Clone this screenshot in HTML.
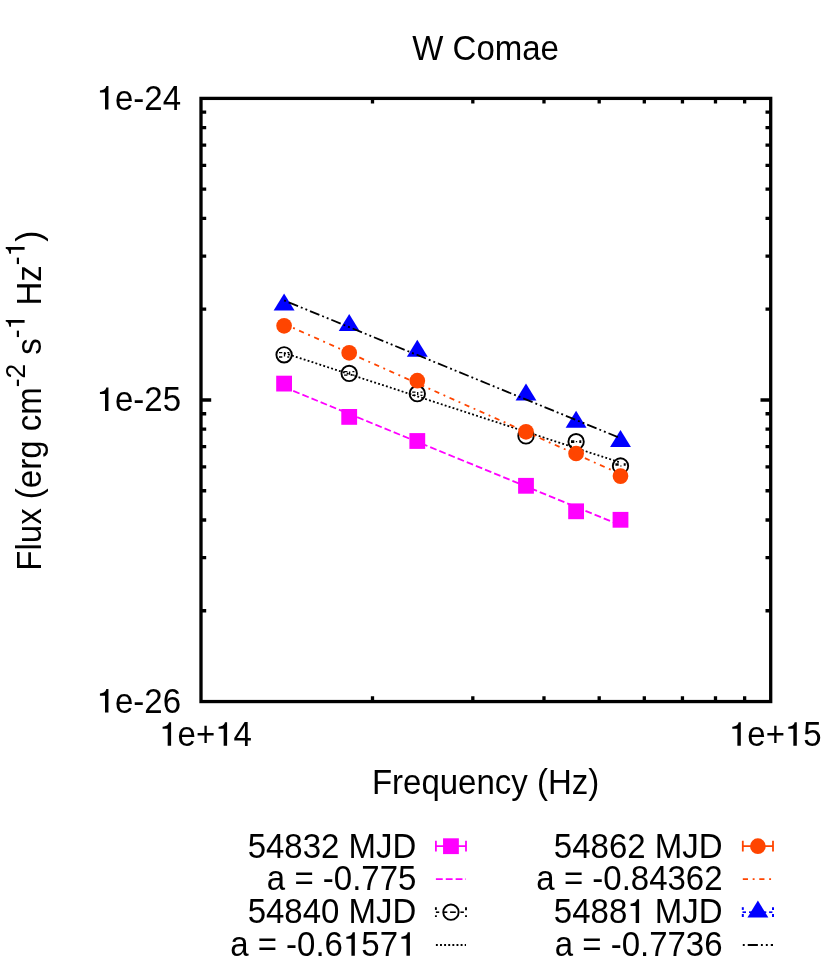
<!DOCTYPE html>
<html><head><meta charset="utf-8"><title>W Comae</title>
<style>html,body{margin:0;padding:0;background:#fff;}svg{display:block;will-change:transform;}text{font-family:"Liberation Sans",sans-serif;fill:#000;font-kerning:none;white-space:pre;}</style></head><body>
<svg width="830" height="972" viewBox="0 0 830 972">
<rect x="0" y="0" width="830" height="972" fill="#ffffff"/>
<g stroke="#000" stroke-width="3.3" stroke-linecap="butt" fill="none">
<path d="M372.50 701.55V696.35M372.50 98.40V103.60"/>
<path d="M472.82 701.55V696.35M472.82 98.40V103.60"/>
<path d="M543.99 701.55V696.35M543.99 98.40V103.60"/>
<path d="M599.20 701.55V696.35M599.20 98.40V103.60"/>
<path d="M644.31 701.55V696.35M644.31 98.40V103.60"/>
<path d="M682.45 701.55V696.35M682.45 98.40V103.60"/>
<path d="M715.49 701.55V696.35M715.49 98.40V103.60"/>
<path d="M744.63 701.55V696.35M744.63 98.40V103.60"/>
<path d="M201.00 309.19H206.20M770.70 309.19H765.50"/>
<path d="M201.00 256.09H206.20M770.70 256.09H765.50"/>
<path d="M201.00 218.41H206.20M770.70 218.41H765.50"/>
<path d="M201.00 189.18H206.20M770.70 189.18H765.50"/>
<path d="M201.00 165.30H206.20M770.70 165.30H765.50"/>
<path d="M201.00 145.11H206.20M770.70 145.11H765.50"/>
<path d="M201.00 127.63H206.20M770.70 127.63H765.50"/>
<path d="M201.00 112.20H206.20M770.70 112.20H765.50"/>
<path d="M201.00 610.77H206.20M770.70 610.77H765.50"/>
<path d="M201.00 557.66H206.20M770.70 557.66H765.50"/>
<path d="M201.00 519.98H206.20M770.70 519.98H765.50"/>
<path d="M201.00 490.76H206.20M770.70 490.76H765.50"/>
<path d="M201.00 466.88H206.20M770.70 466.88H765.50"/>
<path d="M201.00 446.69H206.20M770.70 446.69H765.50"/>
<path d="M201.00 429.20H206.20M770.70 429.20H765.50"/>
<path d="M201.00 413.77H206.20M770.70 413.77H765.50"/>
<path d="M201.00 399.98H211.20M770.70 399.98H760.50"/>
</g>
<rect x="201.00" y="98.40" width="569.70" height="603.15" fill="none" stroke="#000" stroke-width="3.3"/>
<rect x="276.20" y="375.70" width="15.8" height="15.8" fill="#ff00ff"/>
<rect x="341.30" y="409.00" width="15.8" height="15.8" fill="#ff00ff"/>
<rect x="409.40" y="433.10" width="15.8" height="15.8" fill="#ff00ff"/>
<rect x="518.10" y="477.90" width="15.8" height="15.8" fill="#ff00ff"/>
<rect x="568.20" y="503.40" width="15.8" height="15.8" fill="#ff00ff"/>
<rect x="612.60" y="511.90" width="15.8" height="15.8" fill="#ff00ff"/>
<path d="M284.10 387.20L620.50 525.19" stroke="#ff00ff" stroke-width="1.8" stroke-dasharray="6.83 3.04" fill="none"/>
<circle cx="284.10" cy="354.80" r="7.7" fill="none" stroke="#000" stroke-width="1.9"/>
<path d="M279.00 352.60h3.3M279.00 357.00h3.3M287.30 352.60h2M287.30 357.00h2M284.50 352.60v4.00" stroke="#000" stroke-width="1.3" fill="none"/>
<circle cx="349.20" cy="373.40" r="7.7" fill="none" stroke="#000" stroke-width="1.9"/>
<path d="M344.10 371.60h3.3M344.10 375.20h3.3M352.40 371.60h2M352.40 375.20h2M349.60 371.60v3.20" stroke="#000" stroke-width="1.3" fill="none"/>
<circle cx="417.30" cy="393.70" r="7.7" fill="none" stroke="#000" stroke-width="1.9"/>
<path d="M412.20 392.10h3.3M412.20 395.30h3.3M420.50 392.10h2M420.50 395.30h2M417.70 392.10v2.80" stroke="#000" stroke-width="1.3" fill="none"/>
<circle cx="526.00" cy="435.90" r="7.7" fill="none" stroke="#000" stroke-width="1.9"/>
<path d="M520.90 434.70h3.3M520.90 437.10h3.3M529.20 434.70h2M529.20 437.10h2M526.40 434.70v2.00" stroke="#000" stroke-width="1.3" fill="none"/>
<circle cx="576.10" cy="441.70" r="7.7" fill="none" stroke="#000" stroke-width="1.9"/>
<path d="M571.00 441.00h3.3M571.00 442.40h3.3M579.30 441.00h2M579.30 442.40h2M576.50 441.00v1.20" stroke="#000" stroke-width="1.3" fill="none"/>
<circle cx="620.50" cy="466.00" r="7.7" fill="none" stroke="#000" stroke-width="1.9"/>
<path d="M615.40 464.00h3.3M615.40 465.20h3.3M623.70 464.00h2M623.70 465.20h2M620.90 465.40v1.20" stroke="#000" stroke-width="1.3" fill="none"/>
<path d="M284.10 352.95L620.50 462.58" stroke="#000" stroke-width="1.8" stroke-dasharray="1.90 2.22" fill="none"/>
<circle cx="284.10" cy="325.80" r="7.85" fill="#ff4500"/>
<circle cx="349.20" cy="352.80" r="7.85" fill="#ff4500"/>
<circle cx="417.30" cy="380.70" r="7.85" fill="#ff4500"/>
<circle cx="526.00" cy="431.80" r="7.85" fill="#ff4500"/>
<circle cx="576.10" cy="453.50" r="7.85" fill="#ff4500"/>
<circle cx="620.50" cy="476.10" r="7.85" fill="#ff4500"/>
<path d="M284.10 323.87L620.50 474.08" stroke="#ff4500" stroke-width="1.8" stroke-dasharray="5.19 4.69 1.90 4.69" fill="none"/>
<path d="M284.10 293.50L273.65 310.50L294.55 310.50Z" fill="#0000ff"/>
<path d="M349.20 313.96L338.75 330.96L359.65 330.96Z" fill="#0000ff"/>
<path d="M417.30 339.74L406.85 356.74L427.75 356.74Z" fill="#0000ff"/>
<path d="M526.00 383.60L515.55 400.60L536.45 400.60Z" fill="#0000ff"/>
<path d="M576.10 410.80L565.65 427.80L586.55 427.80Z" fill="#0000ff"/>
<path d="M620.50 429.90L610.05 446.90L630.95 446.90Z" fill="#0000ff"/>
<path d="M284.10 300.45L620.50 438.20" stroke="#000" stroke-width="1.8" stroke-dasharray="1.90 3.04 10.12 3.04 1.90 3.04" fill="none"/>
<g transform="translate(485.60 59.80)">
<text transform="translate(-73.35 0.00) scale(1 1.040)" font-size="33">W&#160;Comae</text>
</g>
<g transform="translate(181.00 109.50)">
<path transform="translate(-84.40 0.00) scale(0.03300)" d="M359 0V-714H294C280 -642 244 -600 101 -578V-514H255V0Z"/>
<text transform="translate(-66.05 0.00) scale(1 1.050)" font-size="33">e-24</text>
</g>
<g transform="translate(181.00 411.00)">
<path transform="translate(-84.40 0.00) scale(0.03300)" d="M359 0V-714H294C280 -642 244 -600 101 -578V-514H255V0Z"/>
<text transform="translate(-66.05 0.00) scale(1 1.050)" font-size="33">e-25</text>
</g>
<g transform="translate(181.00 712.60)">
<path transform="translate(-84.40 0.00) scale(0.03300)" d="M359 0V-714H294C280 -642 244 -600 101 -578V-514H255V0Z"/>
<text transform="translate(-66.05 0.00) scale(1 1.050)" font-size="33">e-26</text>
</g>
<g transform="translate(205.60 745.70)">
<path transform="translate(-46.34 0.00) scale(0.03300)" d="M359 0V-714H294C280 -642 244 -600 101 -578V-514H255V0Z"/>
<text transform="translate(-27.99 0.00) scale(1 1.050)" font-size="33">e+</text>
<path transform="translate(9.64 0.00) scale(0.03300)" d="M359 0V-714H294C280 -642 244 -600 101 -578V-514H255V0Z"/>
<text transform="translate(27.99 0.00) scale(1 1.050)" font-size="33">4</text>
</g>
<g transform="translate(775.30 745.70)">
<path transform="translate(-46.34 0.00) scale(0.03300)" d="M359 0V-714H294C280 -642 244 -600 101 -578V-514H255V0Z"/>
<text transform="translate(-27.99 0.00) scale(1 1.050)" font-size="33">e+</text>
<path transform="translate(9.64 0.00) scale(0.03300)" d="M359 0V-714H294C280 -642 244 -600 101 -578V-514H255V0Z"/>
<text transform="translate(27.99 0.00) scale(1 1.050)" font-size="33">5</text>
</g>
<g transform="translate(485.60 794.00)">
<text transform="translate(-113.70 0.00) scale(1 1.040)" font-size="33">Frequency&#160;(Hz)</text>
</g>
<g transform="translate(40.60 400.70) rotate(-90)">
<text transform="translate(-169.97 0.00) scale(1 1.040)" font-size="33">Flux&#160;(erg&#160;cm</text>
<text transform="translate(13.39 -16.00) scale(1 1.040)" font-size="26.4">-2</text>
<text transform="translate(36.86 0.00) scale(1 1.040)" font-size="33">&#160;s</text>
<text transform="translate(62.53 -16.00) scale(1 1.040)" font-size="26.4">-</text>
<path transform="translate(71.32 -16.00) scale(0.02640)" d="M359 0V-714H294C280 -642 244 -600 101 -578V-514H255V0Z"/>
<text transform="translate(86.00 0.00) scale(1 1.040)" font-size="33">&#160;Hz</text>
<text transform="translate(135.50 -16.00) scale(1 1.040)" font-size="26.4">-</text>
<path transform="translate(144.29 -16.00) scale(0.02640)" d="M359 0V-714H294C280 -642 244 -600 101 -578V-514H255V0Z"/>
<text transform="translate(158.98 0.00) scale(1 1.040)" font-size="33">)</text>
</g>
<g transform="translate(416.40 857.70)">
<text transform="translate(-168.75 0.00) scale(1 1.050)" font-size="33">54832&#160;MJD</text>
</g>
<path d="M435.90 846.20H466.00M435.90 840.80v10.8M466.00 840.80v10.8" stroke="#ff00ff" stroke-width="1.8" fill="none"/>
<rect x="443.05" y="838.30" width="15.8" height="15.8" fill="#ff00ff"/>
<g transform="translate(416.40 890.30)">
<text transform="translate(-149.53 0.00) scale(1 1.050)" font-size="33">a&#160;=&#160;-0.775</text>
</g>
<path d="M435.90 879.10H466.00" stroke="#ff00ff" stroke-width="1.8" stroke-dasharray="6.83 3.04" fill="none"/>
<g transform="translate(416.40 922.90)">
<text transform="translate(-168.75 0.00) scale(1 1.050)" font-size="33">54840&#160;MJD</text>
</g>
<path d="M435.90 912.20H439.20" stroke="#000" stroke-width="1.6" fill="none"/>
<path d="M443.30 912.20H447.30" stroke="#000" stroke-width="1.6" fill="none"/>
<path d="M450.10 912.20H455.80" stroke="#000" stroke-width="1.6" fill="none"/>
<path d="M460.40 912.20H463.90" stroke="#000" stroke-width="1.6" fill="none"/>
<path d="M435.90 907.20V909.90" stroke="#000" stroke-width="1.9" fill="none"/>
<path d="M435.90 915.30V917.00" stroke="#000" stroke-width="1.9" fill="none"/>
<path d="M466.00 907.20V910.30" stroke="#000" stroke-width="1.9" fill="none"/>
<path d="M466.00 915.30V917.00" stroke="#000" stroke-width="1.9" fill="none"/>
<circle cx="450.95" cy="912.20" r="7.7" fill="none" stroke="#000" stroke-width="1.9"/>
<g transform="translate(416.40 955.70)">
<text transform="translate(-186.24 0.00) scale(1 1.050)" font-size="33">a&#160;=&#160;-0.6</text>
<path transform="translate(-73.41 0.00) scale(0.03300)" d="M359 0V-714H294C280 -642 244 -600 101 -578V-514H255V0Z"/>
<text transform="translate(-55.06 0.00) scale(1 1.050)" font-size="33">57</text>
<path transform="translate(-18.35 0.00) scale(0.03300)" d="M359 0V-714H294C280 -642 244 -600 101 -578V-514H255V0Z"/>
</g>
<path d="M435.90 945.00H466.00" stroke="#000" stroke-width="1.8" stroke-dasharray="1.90 2.22" fill="none"/>
<g transform="translate(722.60 857.70)">
<text transform="translate(-168.75 0.00) scale(1 1.050)" font-size="33">54862&#160;MJD</text>
</g>
<path d="M742.80 846.20H773.00M742.80 840.80v10.8M773.00 840.80v10.8" stroke="#ff4500" stroke-width="1.8" fill="none"/>
<circle cx="757.90" cy="846.20" r="7.85" fill="#ff4500"/>
<g transform="translate(722.60 890.30)">
<text transform="translate(-186.24 0.00) scale(1 1.050)" font-size="33">a&#160;=&#160;-0.84362</text>
</g>
<path d="M742.80 879.10H773.00" stroke="#ff4500" stroke-width="1.8" stroke-dasharray="5.19 4.69 1.90 4.69" fill="none"/>
<g transform="translate(722.60 922.90)">
<text transform="translate(-168.75 0.00) scale(1 1.050)" font-size="33">5488</text>
<path transform="translate(-95.34 0.00) scale(0.03300)" d="M359 0V-714H294C280 -642 244 -600 101 -578V-514H255V0Z"/>
<text transform="translate(-76.99 0.00) scale(1 1.050)" font-size="33">&#160;MJD</text>
</g>
<path d="M742.50 912.20H746.00" stroke="#0000ff" stroke-width="1.7" fill="none"/>
<path d="M749.00 912.20H752.00" stroke="#0000ff" stroke-width="1.7" fill="none"/>
<path d="M764.00 912.20H766.30" stroke="#0000ff" stroke-width="1.7" fill="none"/>
<path d="M769.10 912.20H772.40" stroke="#0000ff" stroke-width="1.7" fill="none"/>
<path d="M742.80 907.20V909.90" stroke="#0000ff" stroke-width="2" fill="none"/>
<path d="M742.80 914.00V917.00" stroke="#0000ff" stroke-width="2" fill="none"/>
<path d="M773.00 907.20V909.90" stroke="#0000ff" stroke-width="2" fill="none"/>
<path d="M773.00 914.00V917.00" stroke="#0000ff" stroke-width="2" fill="none"/>
<path d="M757.90 900.60L747.45 917.50L768.35 917.50Z" fill="#0000ff"/>
<g transform="translate(722.60 955.70)">
<text transform="translate(-167.88 0.00) scale(1 1.050)" font-size="33">a&#160;=&#160;-0.7736</text>
</g>
<path d="M742.80 945.00H773.00" stroke="#000" stroke-width="1.8" stroke-dasharray="1.90 3.04 10.12 3.04 1.90 3.04" fill="none"/>
</svg></body></html>
